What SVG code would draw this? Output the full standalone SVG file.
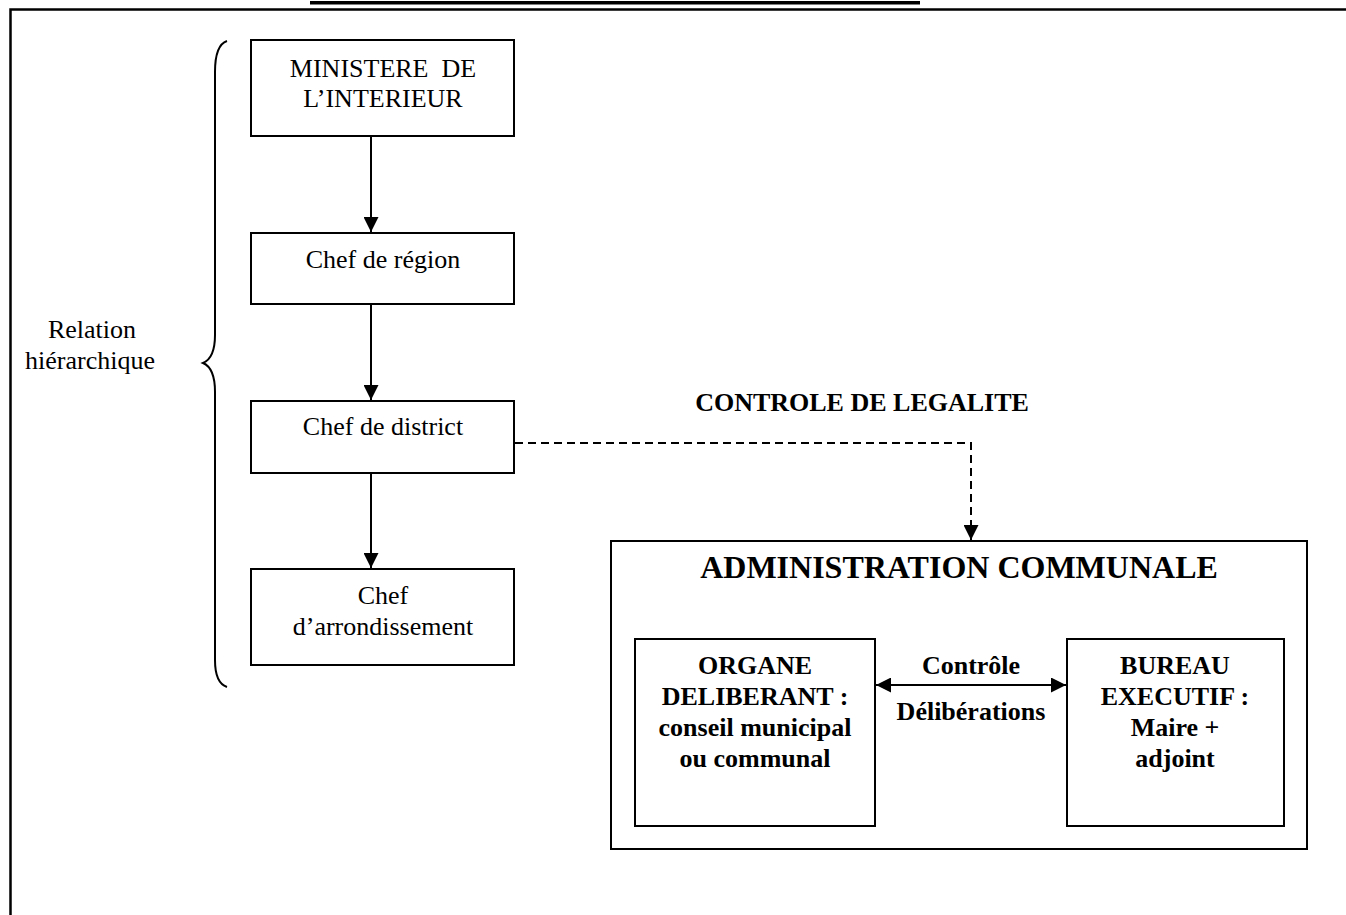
<svg xmlns="http://www.w3.org/2000/svg" width="1346" height="915" viewBox="0 0 1346 915">
<style>
.box{fill:#fff;stroke:#000;stroke-width:2}
.t{font-family:"Liberation Serif","Times New Roman",serif;font-size:26px;fill:#000;text-anchor:middle}
.b{font-weight:bold}
.ln{fill:none;stroke:#000;stroke-width:2}
</style>
<defs>
<marker id="ah" viewBox="0 0 10 10" refX="10" refY="5" markerWidth="7.5" markerHeight="7.5" markerUnits="strokeWidth" orient="auto-start-reverse">
<path d="M0,0 L10,5 L0,10 z" fill="#000"/>
</marker>
</defs>
<rect x="0" y="0" width="1346" height="915" fill="#fff"/>
<rect x="310" y="1" width="610" height="3.5" fill="#000"/>
<path d="M10.5,915 L10.5,9.5 L1346,9.5" fill="none" stroke="#000" stroke-width="2.5"/>
<g id="brace">
<path class="ln" d="M227,41 Q215,45 215,72 L215,335 Q215,358 203,363 Q215,368 215,392 L215,660 Q215,683 227,687"/>
</g>
<g id="relation">
<text class="t" x="92" y="338">Relation</text>
<text class="t" x="90" y="369">hiérarchique</text>
</g>
<g id="ministere">
<rect class="box" x="251" y="40" width="263" height="96"/>
<text class="t" x="383" y="77" xml:space="preserve">MINISTERE  DE</text>
<text class="t" x="383" y="107">L’INTERIEUR</text>
</g>
<g id="region">
<rect class="box" x="251" y="233" width="263" height="71"/>
<text class="t" x="383" y="268">Chef de région</text>
</g>
<g id="district">
<rect class="box" x="251" y="401" width="263" height="72"/>
<text class="t" x="383" y="435">Chef de district</text>
</g>
<g id="arrondissement">
<rect class="box" x="251" y="569" width="263" height="96"/>
<text class="t" x="383" y="604">Chef</text>
<text class="t" x="383" y="635">d’arrondissement</text>
</g>
<g id="controle-label">
<text class="t b" x="862" y="411">CONTROLE DE LEGALITE</text>
</g>
<g id="administration">
<rect class="box" x="611" y="541" width="696" height="308"/>
<text class="t b" x="959" y="578" style="font-size:32px">ADMINISTRATION COMMUNALE</text>
</g>
<g id="organe">
<rect class="box" x="635" y="639" width="240" height="187"/>
<text class="t b" x="755" y="674">ORGANE</text>
<text class="t b" x="755" y="705">DELIBERANT :</text>
<text class="t b" x="755" y="736">conseil municipal</text>
<text class="t b" x="755" y="767">ou communal</text>
</g>
<g id="bureau">
<rect class="box" x="1067" y="639" width="217" height="187"/>
<text class="t b" x="1175" y="674">BUREAU</text>
<text class="t b" x="1175" y="705">EXECUTIF :</text>
<text class="t b" x="1175" y="736">Maire +</text>
<text class="t b" x="1175" y="767">adjoint</text>
</g>
<g id="connectors">
<line class="ln" x1="371" y1="136" x2="371" y2="232" marker-end="url(#ah)"/>
<line class="ln" x1="371" y1="304" x2="371" y2="400" marker-end="url(#ah)"/>
<line class="ln" x1="371" y1="473" x2="371" y2="568" marker-end="url(#ah)"/>
<path class="ln" d="M515,443 L971,443 L971,540" stroke-dasharray="8,5" marker-end="url(#ah)"/>
<line class="ln" x1="876" y1="685" x2="1066" y2="685" marker-start="url(#ah)" marker-end="url(#ah)"/>
<text class="t b" x="971" y="674">Contrôle</text>
<text class="t b" x="971" y="720">Délibérations</text>
</g>
</svg>
